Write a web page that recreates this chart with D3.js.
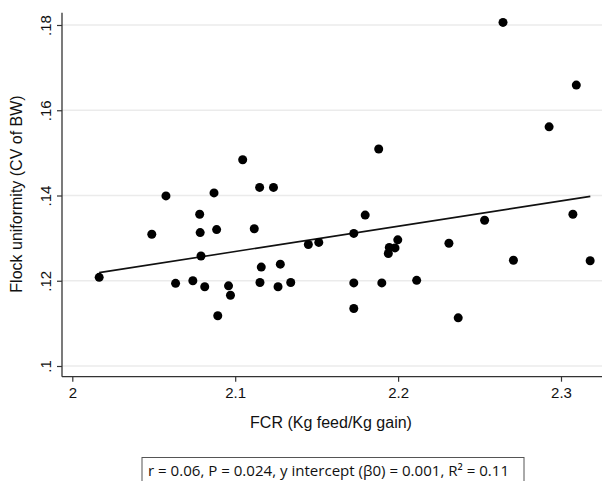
<!DOCTYPE html>
<html>
<head>
<meta charset="utf-8">
<script src="https://cdn.jsdelivr.net/npm/d3@7"></script>
<style>
  body { margin: 0; background: #fff; }
  svg { display: block; }
</style>
</head>
<body>
<div id="chart"></div>
<script>
// valores
const fcr = [2.0165, 2.0488, 2.0575, 2.0634, 2.0740, 2.0782, 2.0785, 2.0790, 2.0813, 2.0870,
             2.0886, 2.0893, 2.0959, 2.0971, 2.1046, 2.1117, 2.1150, 2.1152, 2.1160, 2.1235,
             2.1263, 2.1277, 2.1341, 2.1449, 2.1513, 2.1728, 2.1728, 2.1728, 2.1798, 2.1881,
             2.1900, 2.1940, 2.1946, 2.1981, 2.1998, 2.2114, 2.2312, 2.2369, 2.2531, 2.2644,
             2.2708, 2.2927, 2.3073, 2.3094, 2.3179];
const cv  = [.1208, .1309, .1399, .1194, .1200, .1356, .1313, .1258, .1186, .1406,
             .1320, .1118, .1188, .1166, .1484, .1322, .1419, .1196, .1232, .1419,
             .1186, .1239, .1196, .1285, .1290, .1311, .1195, .1135, .1354, .1509,
             .1195, .1264, .1278, .1277, .1296, .1201, .1288, .1113, .1342, .1806,
             .1248, .1561, .1356, .1659, .1247];
// recta de ajuste (extremos)
const fitX = [2.0165, 2.318];
const fitY = [.1219, .1398];
const xTicks = [2, 2.1, 2.2, 2.3];
const xTickLabels = ["2", "2.1", "2.2", "2.3"];
const yTicks = [.1, .12, .14, .16, .18];
const yTickLabels = [".1", ".12", ".14", ".16", ".18"];
const statsText = "r = 0.06, P = 0.024, y intercept (\u03b20) = 0.001, R\u00b2 = 0.11";

const W = 602, H = 481;
const svg = d3.select("#chart").append("svg").attr("width", W).attr("height", H);

const plotL = 62, plotB = 376.7, plotT = 12.7, plotR = 602;
const x = d3.scaleLinear().domain([2, 2.3]).range([72.3, 561]);
const y = d3.scaleLinear().domain([.1, .18]).range([366, 25]);

// lineas de cuadricula
svg.append("g").selectAll("line").data(yTicks).join("line")
  .attr("x1", plotL).attr("x2", plotR)
  .attr("y1", d => y(d)).attr("y2", d => y(d))
  .attr("stroke", "#ebebeb").attr("stroke-width", 1.5);

// eje x
const gx = svg.append("g").attr("transform", `translate(0,${plotB})`)
  .call(d3.axisBottom(x).tickValues(xTicks).tickFormat((d, i) => xTickLabels[i]).tickSize(5).tickPadding(6).tickSizeOuter(0));
gx.select(".domain").attr("d", `M${plotL},0H${plotR}`).attr("stroke", "#333").attr("stroke-width", 1.3);
gx.selectAll(".tick line").attr("stroke", "#333").attr("stroke-width", 1.2);
gx.selectAll(".tick text").attr("font-family", "Liberation Sans, Arial, sans-serif")
  .attr("font-size", 15).attr("fill", "#111");

// eje y
const gy = svg.append("g").attr("transform", `translate(${plotL},0)`)
  .call(d3.axisLeft(y).tickValues(yTicks).tickFormat((d, i) => yTickLabels[i]).tickSize(5).tickSizeOuter(0));
gy.select(".domain").attr("d", `M0,${plotT}V${plotB}`).attr("stroke", "#333").attr("stroke-width", 1.3);
gy.selectAll(".tick line").attr("stroke", "#333").attr("stroke-width", 1.2);
gy.selectAll(".tick text")
  .attr("x", null).attr("dy", null)
  .attr("transform", "translate(-11,0) rotate(-90)")
  .attr("text-anchor", "middle")
  .attr("font-family", "Liberation Sans, Arial, sans-serif")
  .attr("font-size", 15).attr("fill", "#111");

// recta de regresion
svg.append("line")
  .attr("x1", x(fitX[0])).attr("y1", y(fitY[0]))
  .attr("x2", x(fitX[1])).attr("y2", y(fitY[1]))
  .attr("stroke", "#111").attr("stroke-width", 1.6);

// puntos
svg.append("g").selectAll("circle").data(fcr).join("circle")
  .attr("cx", d => x(d)).attr("cy", (d, i) => y(cv[i]))
  .attr("r", 4.5).attr("fill", "#000");

// titulos de ejes
svg.append("text")
  .attr("x", 331).attr("y", 428)
  .attr("text-anchor", "middle")
  .attr("font-family", "Liberation Sans, Arial, sans-serif").attr("font-size", 16).attr("fill", "#111")
  .text("FCR (Kg feed/Kg gain)");

svg.append("text")
  .attr("transform", "translate(22,194) rotate(-90)")
  .attr("text-anchor", "middle")
  .attr("font-family", "Liberation Sans, Arial, sans-serif").attr("font-size", 16).attr("fill", "#111")
  .text("Flock uniformity (CV of BW)");

// recuadro con estadisticos
svg.append("rect")
  .attr("x", 142).attr("y", 457.5).attr("width", 382).attr("height", 40)
  .attr("fill", "none").attr("stroke", "#555").attr("stroke-width", 1);
svg.append("text")
  .attr("x", 148).attr("y", 476)
  .attr("font-family", "Open Sans, Noto Sans, sans-serif").attr("font-size", 14.5).attr("fill", "#111")
  .attr("textLength", 361).attr("lengthAdjust", "spacingAndGlyphs")
  .text(statsText);
</script>
</body>
</html>
